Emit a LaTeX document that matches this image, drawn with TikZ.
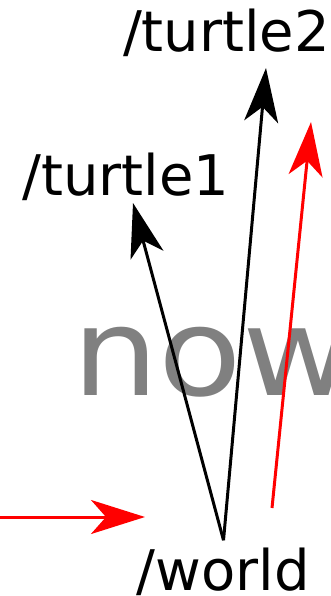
\documentclass[tikz,border=0pt]{standalone}
\usepackage{fontspec}
\setmainfont{DejaVu Sans}
\usetikzlibrary{arrows.meta}
\begin{document}
\begin{tikzpicture}[
    x=1pt, y=-1pt,
    frame/.style={anchor=base, inner sep=0pt, font=\fontsize{56}{60}\selectfont},
    link/.style={line width=3pt, -{Stealth[length=54pt, width=34pt, inset=15pt]}},
    move/.style={link, red}
  ]
    \useasboundingbox (0,0) rectangle (331,596);
    \clip (0,0) rectangle (331,596);
    \node[anchor=base west, inner sep=0pt, text=gray, font=\fontsize{122}{122}\selectfont] (now) at (72,395) {\scalebox{1.12}[1]{now}};
    \node[frame] (world) at (223.5,590) {/world};
    \node[frame] (turtle1) at (126,195) {/turtle1};
    \node[frame] (turtle2) at (226.5,52) {/turtle2};
    \coordinate (t1tip) at (133,203);
    \coordinate (t2tip) at (266,68);
    \coordinate (vfrom) at (272,508);
    \coordinate (vto) at (311,122);
    \coordinate (hfrom) at (-2,517);
    \coordinate (hto) at (145,517);
    \draw[link] ([yshift=7pt]world.north) -- (t1tip);
    \draw[link] ([yshift=7pt]world.north) -- (t2tip);
    \draw[move] (vfrom) -- (vto);
    \draw[move] (hfrom) -- (hto);
  \end{tikzpicture}
\end{document}
